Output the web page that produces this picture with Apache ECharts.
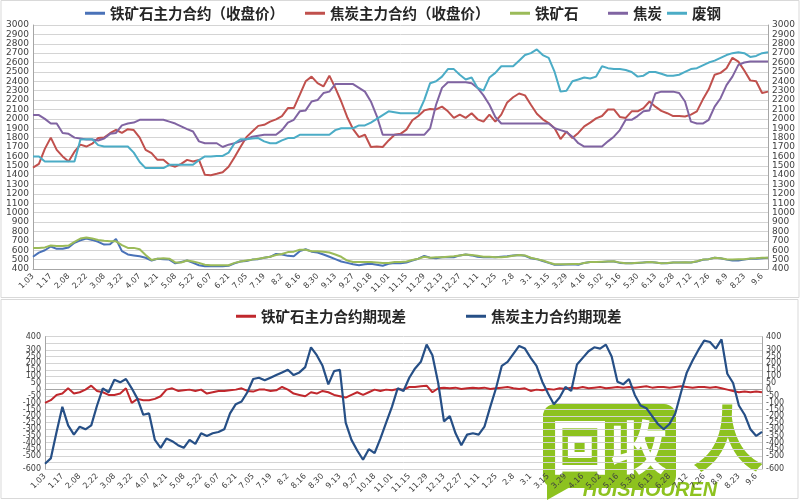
<!DOCTYPE html>
<html><head><meta charset="utf-8">
<script src="https://cdn.jsdelivr.net/npm/echarts@6/dist/echarts.min.js"></script>
<style>html,body{margin:0;padding:0;background:#fff}#c{width:800px;height:500px}</style>
</head><body><div id="c"></div>
<script>
const tickLabels = ['1.03','1.17','2.08','2.22','3.08','3.22','4.07','4.21','5.08','5.22','6.07','6.21','7.05','7.19','8.2','8.16','8.30','9.13','9.27','10.18','11.01','11.15','11.29','12.13','12.27','1.11','1.25','2.8','3.1','3.15','3.29','4.16','5.02','5.16','5.30','6.13','6.28','7.12','7.26','8.9','8.23','9.6'];

const ironFut = [530,575,600,640,615,615,630,680,705,725,710,690,660,665,720,590,555,545,535,520,490,510,505,500,460,475,490,465,440,430,430,430,430,435,460,480,485,500,505,520,530,560,555,540,535,590,610,585,575,555,530,505,480,465,450,440,450,455,445,435,455,465,460,470,490,510,540,520,515,525,525,525,545,555,545,530,525,525,525,530,535,545,550,540,515,505,485,465,445,445,448,450,445,465,475,475,475,480,480,465,460,462,465,470,475,470,460,462,470,468,470,470,480,498,505,520,515,500,490,490,500,510,510,515,520];
const cokeFut = [1480,1520,1680,1800,1670,1600,1545,1650,1725,1705,1735,1795,1800,1847,1883,1850,1890,1880,1800,1670,1635,1563,1563,1510,1490,1520,1563,1545,1563,1403,1400,1414,1430,1490,1590,1700,1805,1865,1925,1936,1970,1995,2030,2115,2115,2255,2400,2450,2380,2345,2460,2330,2185,2020,1890,1805,1830,1700,1705,1700,1770,1830,1840,1885,1985,2030,2090,2105,2100,2130,2080,2010,2045,2010,2060,1995,1970,2045,1970,2045,2175,2230,2270,2250,2150,2055,1995,1955,1900,1785,1865,1795,1850,1920,1960,2005,2030,2100,2100,2020,2010,2080,2080,2115,2185,2130,2085,2060,2030,2030,2025,2045,2080,2205,2315,2470,2490,2540,2650,2610,2515,2410,2400,2275,2290];
const ironSpot = [625,625,630,650,645,645,650,690,725,735,725,710,700,695,695,655,625,625,610,550,495,510,515,510,470,470,490,480,465,445,440,440,440,440,465,480,490,500,510,520,530,550,560,580,585,605,605,590,590,585,575,555,530,490,475,475,475,475,470,465,465,475,475,480,495,510,530,520,525,525,530,535,545,555,550,540,530,530,525,525,530,540,550,545,520,505,490,470,450,450,450,452,452,465,475,475,478,480,482,468,462,462,466,470,475,470,462,465,470,470,472,470,482,500,505,520,515,505,500,505,505,512,515,520,520];
const cokeSpot = [2040,2040,2000,1950,1950,1850,1840,1800,1790,1780,1780,1770,1790,1840,1850,1930,1950,1960,1990,1990,1990,1990,1990,1970,1950,1920,1890,1865,1760,1740,1740,1740,1700,1725,1740,1760,1783,1810,1820,1830,1830,1830,1880,1960,1990,2080,2090,2185,2200,2275,2290,2370,2370,2370,2370,2330,2290,2185,2030,1830,1830,1830,1830,1830,1830,1830,1830,1900,2150,2330,2390,2390,2390,2390,2380,2330,2250,2150,2020,1950,1950,1950,1950,1950,1950,1950,1950,1950,1900,1880,1860,1810,1740,1705,1705,1705,1705,1760,1810,1880,1990,1990,2030,2080,2090,2270,2290,2290,2290,2275,2185,1970,1950,1950,1990,2130,2220,2360,2450,2575,2600,2610,2610,2610,2610];
const scrap = [1600,1600,1545,1545,1545,1545,1545,1545,1780,1783,1783,1720,1705,1705,1705,1705,1705,1640,1540,1475,1475,1475,1475,1510,1510,1510,1510,1510,1560,1600,1600,1605,1605,1640,1740,1783,1783,1790,1795,1760,1740,1740,1770,1795,1795,1830,1830,1830,1830,1830,1830,1880,1900,1900,1900,1930,1930,1960,2000,2040,2080,2070,2060,2060,2060,2060,2200,2380,2400,2450,2530,2530,2470,2420,2440,2330,2300,2440,2490,2560,2560,2560,2620,2680,2700,2740,2680,2650,2500,2290,2300,2400,2420,2440,2430,2450,2560,2540,2530,2530,2520,2500,2450,2460,2500,2500,2480,2460,2460,2470,2500,2530,2540,2570,2600,2620,2650,2680,2700,2710,2700,2660,2670,2700,2710];
const ironBasis = [-100,-80,-40,-30,10,-30,-20,0,30,-10,-20,-40,-40,-30,10,-100,-70,-80,-80,-70,-50,0,10,-10,-5,0,-10,0,-30,-20,-10,-10,-5,0,10,-10,-15,0,0,-10,-5,20,0,-30,-40,-50,-20,-30,-10,-20,-40,-50,-60,-40,-20,-40,-20,0,-10,0,-5,5,0,20,20,25,30,-20,10,15,10,15,5,10,15,10,15,5,10,15,20,10,5,10,-10,0,-5,5,0,10,5,15,10,20,10,15,20,10,15,20,15,20,15,20,25,15,20,20,15,20,25,20,15,20,20,15,20,10,0,-10,-20,-15,-20,-15,-20];
const cokeBasis = [-560,-520,-320,-130,-270,-340,-280,-300,-270,-120,10,-20,75,55,80,10,-70,-190,-180,-380,-440,-370,-390,-420,-440,-380,-410,-330,-350,-330,-320,-300,-180,-110,-90,-20,80,90,70,90,110,130,150,110,130,170,320,260,180,40,140,150,-250,-380,-460,-530,-450,-480,-370,-250,-130,10,-10,90,160,210,340,260,50,-240,-200,-330,-420,-340,-330,-340,-280,-130,10,180,210,270,330,310,240,180,60,-30,-110,-60,20,-10,190,240,290,320,310,340,250,60,40,80,-40,-120,-140,-200,-260,-300,-260,-180,-20,130,220,300,370,360,310,380,120,50,-120,-190,-300,-350,-320];

const cats = ironFut.map((_, i) => String(i));
const fmt = (v, idx) => tickLabels[Math.round(idx / 3)] || '';

const chart = echarts.init(document.getElementById('c'), null, {renderer: 'canvas'});
const gridColor = '#d4d4d4';
const axisColor = '#a6a6a6';
const lblColor = '#404040';

function xAx(g) {
  return {gridIndex: g, type: 'category', data: cats, boundaryGap: false,
    axisLine: {show: true, lineStyle: {color: axisColor}}, axisTick: {show: false},
    axisLabel: {interval: 2, rotate: 45, fontSize: 8, color: lblColor, fontFamily: 'DejaVu Sans', margin: 6, formatter: fmt},
    splitLine: {show: false}};
}
function yAx(g, pos, min, max, step, fs, split) {
  return {gridIndex: g, type: 'value', position: pos, min: min, max: max, interval: step,
    axisLine: {show: true, lineStyle: {color: axisColor}}, axisTick: {show: false},
    axisLabel: {fontSize: fs, color: lblColor, fontFamily: 'DejaVu Sans', margin: 4,
      showMinLabel: true, showMaxLabel: true, formatter: v => String(v)},
    splitLine: {show: split, lineStyle: {color: gridColor, width: 1}}};
}
function line(name, data, color, xi, yi, w) {
  return {name: name, type: 'line', data: data, xAxisIndex: xi, yAxisIndex: yi, showSymbol: false, symbol: 'none',
    lineStyle: {color: color, width: w}, itemStyle: {color: color}, animation: false};
}
const legText = {fontSize: 14.5, fontWeight: 'bold', color: '#262626', fontFamily: 'Noto Sans CJK SC'};
function leg(names, left, top) {
  return {data: names, left: left, top: top, icon: 'rect', itemWidth: 20, itemHeight: 3, itemGap: 20,
    textStyle: legText, selectedMode: false, padding: 0};
}

chart.setOption({
  animation: false,
  backgroundColor: '#ffffff',
  grid: [{left: 33, right: 32, top: 25, height: 244}, {left: 45, right: 38, top: 336.7, height: 132.3}],
  legend: [
    leg(['铁矿石主力合约（收盘价）'], 85, 6),
    leg(['焦炭主力合约（收盘价）'], 305, 6),
    leg(['铁矿石'], 510, 6),
    leg(['焦炭'], 608, 6),
    leg(['废钢'], 667, 6),
    leg(['铁矿石主力合约期现差'], 236, 309),
    leg(['焦炭主力合约期现差'], 466, 309)
  ],
  xAxis: [xAx(0), xAx(1)],
  yAxis: [
    yAx(0, 'left', 400, 3000, 100, 9, true),
    yAx(0, 'right', 400, 3000, 100, 9, false),
    yAx(1, 'left', -600, 400, 50, 8, true),
    yAx(1, 'right', -600, 400, 50, 8, false)
  ],
  series: [
    line('铁矿石主力合约（收盘价）', ironFut, '#4a72b8', 0, 0, 2),
    line('焦炭主力合约（收盘价）', cokeFut, '#c0504d', 0, 0, 2),
    line('铁矿石', ironSpot, '#9bbb59', 0, 0, 2),
    line('焦炭', cokeSpot, '#8064a2', 0, 0, 2),
    line('废钢', scrap, '#4bacc6', 0, 0, 2),
    line('铁矿石主力合约期现差', ironBasis, '#c0282d', 1, 2, 2),
    line('焦炭主力合约期现差', cokeBasis, '#264f86', 1, 2, 2.2)
  ],
  graphic: [
    {type: 'rect', shape: {x: 1, y: 0.5, width: 798, height: 297}, style: {fill: 'none', stroke: '#d9d9d9', lineWidth: 1}, silent: true},
    {type: 'rect', shape: {x: 1, y: 299.5, width: 797, height: 199}, style: {fill: 'none', stroke: '#d9d9d9', lineWidth: 1}, silent: true},
    {type: 'group', z: 100, silent: true, children: [
      {type: 'rect', shape: {x: 543, y: 404, width: 133, height: 84, r: 12}, style: {fill: '#8dc21f'}},
      {type: 'polygon', shape: {points: [[547, 478], [547, 500], [572, 486]]}, style: {fill: '#8dc21f'}},
      {type: 'text', x: 609, y: 447, style: {text: '回收', fill: '#ffffff', fontSize: 58, fontWeight: 'bold', fontFamily: 'Noto Sans CJK SC', align: 'center', verticalAlign: 'middle'}},
      {type: 'text', x: 728, y: 438, style: {text: '人', fill: '#8dc21f', fontSize: 72, fontWeight: 'bold', fontFamily: 'Noto Sans CJK SC', align: 'center', verticalAlign: 'middle'}},
      {type: 'text', x: 650, y: 490, style: {text: 'HUISHOUREN', fill: '#8dc21f', fontSize: 20, fontWeight: 'bold', fontStyle: 'italic', fontFamily: 'Liberation Sans', align: 'center', verticalAlign: 'middle'}}
    ]}
  ]
});
</script></body></html>
